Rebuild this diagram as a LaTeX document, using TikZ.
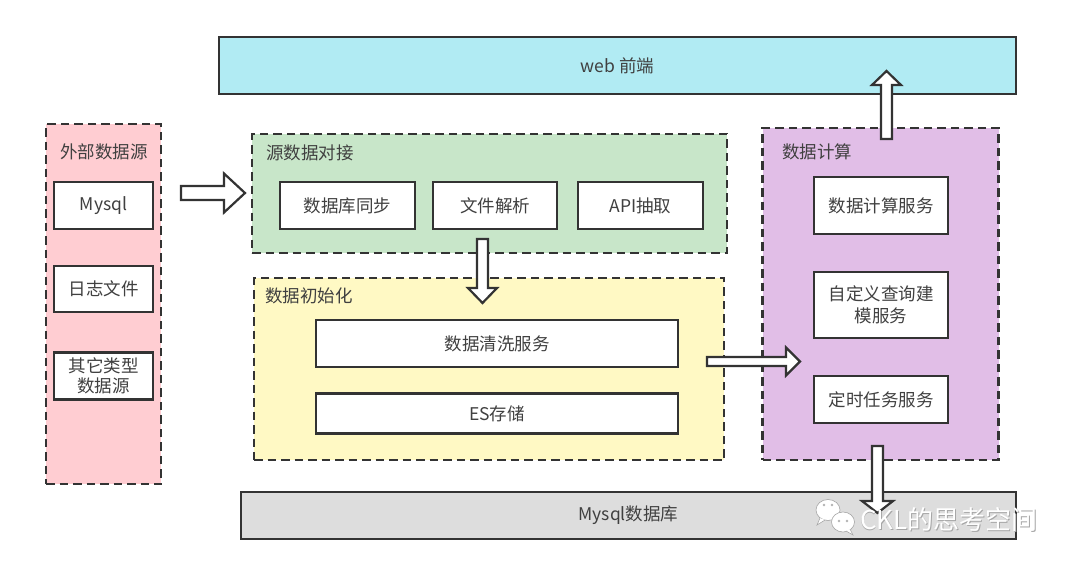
\documentclass[tikz,border=0pt]{standalone}
\usepackage{fontspec}
\setmainfont{Noto Sans CJK SC}
\usetikzlibrary{calc}
\definecolor{ink}{HTML}{333333}
\definecolor{txt}{HTML}{404040}
\definecolor{webc}{HTML}{B1EBF3}
\definecolor{pinkc}{HTML}{FFCDD2}
\definecolor{greenc}{HTML}{C8E6C9}
\definecolor{yellowc}{HTML}{FFF9C4}
\definecolor{purplec}{HTML}{E1BEE7}
\definecolor{grayc}{HTML}{DDDDDD}
\begin{document}
\begin{tikzpicture}[x=1pt,y=-1pt,
  every node/.style={font=\fontsize{17.5}{21}\selectfont, text=txt, inner sep=0pt, outer sep=0pt},
  group/.style={draw=ink, line width=2.8pt, dash pattern=on 8.5pt off 5pt, rectangle},
  item/.style={draw=ink, line width=2.2pt, fill=white, rectangle, align=center},
  solidbox/.style={draw=ink, line width=2.2pt, rectangle},
  title/.style={anchor=west},
  blk/.style={draw=ink, line width=2.2pt, fill=white, line join=miter}
]
\useasboundingbox (0,0) rectangle (1080,568);
\fill[white] (0,0) rectangle (1080,568);

% top web box
\node[solidbox, fill=webc, minimum width=797, minimum height=57] (web) at (617.5,65.5) {web 前端};

% external data sources
\node[group, fill=pinkc, minimum width=115, minimum height=360] (ext) at (103.5,304) {};
\node[title] (extt) at (60,152) {外部数据源};
\node[item, minimum width=99, minimum height=47] (src1) at (103.5,205.5) {Mysql};
\node[item, minimum width=99, minimum height=46] (src2) at (103.5,289) {日志文件};
\node[item, minimum width=99, minimum height=47, font=\fontsize{17.5}{20}\selectfont] (src3) at (103.5,376) {其它类型\\数据源};

% source data docking
\node[group, fill=greenc, minimum width=475, minimum height=119] (dock) at (489.5,193.5) {};
\node[title] (dockt) at (266,153) {源数据对接};
\node[item, minimum width=135, minimum height=47] (g1) at (347.5,205.5) {数据库同步};
\node[item, minimum width=124, minimum height=47] (g2) at (495,205.5) {文件解析};
\node[item, minimum width=125, minimum height=47] (g3) at (640.5,205.5) {API抽取};

% data init
\node[group, fill=yellowc, minimum width=470, minimum height=182] (init) at (489,369) {};
\node[title] (initt) at (265,296) {数据初始化};
\node[item, minimum width=362, minimum height=47] (y1) at (497,343.5) {数据清洗服务};
\node[item, minimum width=362, minimum height=40] (y2) at (497,413.5) {ES存储};

% data compute
\node[group, fill=purplec, minimum width=236, minimum height=332] (comp) at (880.5,294) {};
\node[title] (compt) at (782,152) {数据计算};
\node[item, minimum width=134, minimum height=57] (p1) at (881,205.5) {数据计算服务};
\node[item, minimum width=134, minimum height=66, font=\fontsize{17.5}{22}\selectfont] (p2) at (881,305) {自定义查询建\\模服务};
\node[item, minimum width=134, minimum height=47] (p3) at (881,399.5) {定时任务服务};

% mysql db
\node[solidbox, fill=grayc, minimum width=775, minimum height=47] (db) at (628.5,515.5) {Mysql数据库};

% block arrows
\draw[blk] (181,186) -- (224,186) -- (224,173.5) -- (245,193) -- (224,212.5) -- (224,200) -- (181,200) -- cycle;
\draw[blk] (477,239) -- (488,239) -- (488,288) -- (497,288) -- (482.5,303) -- (468,288) -- (477,288) -- cycle;
\draw[blk] (707,357) -- (786,357) -- (786,347.5) -- (800,361.5) -- (786,375.5) -- (786,366) -- (707,366) -- cycle;
\draw[blk] (881,139) -- (881,85) -- (872,85) -- (886.5,71) -- (901,85) -- (892,85) -- (892,139) -- cycle;
\draw[blk] (872,446) -- (883,446) -- (883,501) -- (893,501) -- (877.5,513) -- (862,501) -- (872,501) -- cycle;

% watermark
\begin{scope}
\fill[white, draw=gray!70, line width=0.6pt] (828,510) ellipse (12 and 10.5);
\draw[draw=gray!70, fill=white, line width=0.6pt] (820,518) -- (817,525) -- (825,520);
\fill[white, draw=gray!70, line width=0.6pt] (843,522) ellipse (11.5 and 10);
\draw[draw=gray!70, fill=white, line width=0.6pt] (850,529) -- (853,535) -- (846,531);
\fill[gray!60] (824,505) circle (1.3) (832,505) circle (1.3) (839,521) circle (1.3) (847,521) circle (1.3);
\node[anchor=west, text=gray!70, font=\fontsize{26}{26}\selectfont] (wms) at (860.9,520.4) {CKL的思考空间};
\node[anchor=west, text=white, font=\fontsize{26}{26}\selectfont] (wm) at (860,519.5) {CKL的思考空间};
\end{scope}
\end{tikzpicture}
\end{document}
